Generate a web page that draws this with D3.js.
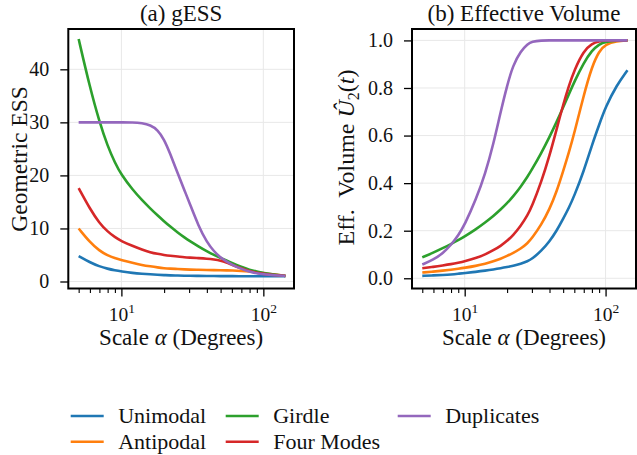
<!DOCTYPE html>
<html><head><meta charset="utf-8">
<script src="https://cdn.jsdelivr.net/npm/d3@7"></script>
<style>
body{margin:0;background:#fff}
svg{display:block}
text{font-family:"Liberation Serif","Times New Roman",serif;fill:#111}
</style>
</head><body>
<svg id="c" width="637" height="455"></svg>
<script>
// ---- data ----
const alpha = [5,6,7,8,9,10,12,14,16,18,20,22,25,28,30,35,40,45,50,55,60,70,80,90,100,120,143];
const seriesNames = ["Unimodal","Antipodal","Girdle","Four Modes","Duplicates"];
const seriesColors = ["#1f77b4","#ff7f0e","#2ca02c","#d62728","#9467bd"];

const gessUnimodal  = [4.8,3.6,2.85,2.4,2.1,1.9,1.6,1.45,1.35,1.27,1.2,1.16,1.12,1.09,1.08,1.05,1.04,1.03,1.02,1.01,1.01,1.0,1.0,1.0,1.0,1.0,1.0];
const gessAntipodal = [10,7.4,5.8,4.9,4.4,4.05,3.5,3.1,2.85,2.65,2.5,2.42,2.35,2.28,2.25,2.2,2.18,2.15,2.13,2.1,2.08,2.0,1.88,1.72,1.58,1.3,1.08];
const gessGirdle    = [45.7,36.6,30.1,25.5,22.4,20.1,17.3,15.3,13.75,12.45,11.35,10.4,9.2,8.25,7.7,6.6,5.7,5.0,4.45,3.95,3.5,2.75,2.2,1.85,1.6,1.28,1.06];
const gessFourModes = [17.6,13.7,11.0,9.4,8.35,7.6,6.7,6.0,5.5,5.2,5.0,4.85,4.7,4.55,4.5,4.4,4.3,4.15,3.95,3.6,3.15,2.45,1.95,1.65,1.45,1.2,1.06];
const gessDuplicates= [30,30,30,30,30,30,30,29.85,29.5,28.6,26.8,24.2,20.3,17.0,15.0,10.4,7.4,5.65,4.5,3.75,3.18,2.39,1.83,1.52,1.36,1.17,1.06];

const volUnimodal  = [0.01,0.012,0.014,0.016,0.019,0.022,0.027,0.032,0.037,0.042,0.047,0.052,0.061,0.072,0.081,0.115,0.155,0.2,0.25,0.297,0.347,0.45,0.56,0.645,0.72,0.812,0.875];
const volAntipodal = [0.024,0.028,0.032,0.036,0.04,0.044,0.052,0.061,0.071,0.082,0.094,0.106,0.124,0.148,0.168,0.225,0.29,0.365,0.45,0.53,0.61,0.77,0.89,0.955,0.984,0.997,1.0];
const volGirdle    = [0.088,0.108,0.127,0.144,0.16,0.176,0.206,0.235,0.262,0.289,0.316,0.343,0.385,0.428,0.457,0.527,0.594,0.658,0.719,0.775,0.826,0.906,0.958,0.984,0.995,0.999,1.0];
const volFourModes = [0.042,0.048,0.054,0.0595,0.0655,0.0715,0.085,0.1,0.118,0.136,0.157,0.18,0.22,0.266,0.302,0.405,0.515,0.628,0.73,0.81,0.875,0.957,0.987,0.997,1.0,1.0,1.0];
const volDuplicates= [0.058,0.078,0.105,0.14,0.18,0.225,0.33,0.44,0.565,0.7,0.81,0.895,0.955,0.985,0.995,1.0,1.0,1.0,1.0,1.0,1.0,1.0,1.0,1.0,1.0,1.0,1.0];

const xMajorTicks = [10,100];
const xMajorExp = ["1","2"];
const xMinorTicks = [5,6,7,8,9,20,30,40,50,60,70,80,90];
const gessTicks = [0,10,20,30,40];
const volTicks = [0,0.2,0.4,0.6,0.8,1.0];

const titles = ["(a) gESS","(b) Effective Volume"];

// ---- drawing ----
const svg = d3.select("#c");
const yTop = 29, yBottom = 288.5;
const xDomain = [Math.pow(10,0.626), Math.pow(10,2.216)];

function panel(opt){
  const x = d3.scaleLog().domain(xDomain).range([opt.x0, opt.x1]);
  const y = d3.scaleLinear().domain(opt.yDomain).range([yBottom, yTop]);
  const g = svg.append("g");
  // grid
  g.selectAll(".gx").data(xMajorTicks).enter().append("line")
    .attr("x1", d=>x(d)).attr("x2", d=>x(d)).attr("y1", yTop).attr("y2", yBottom)
    .attr("stroke", "#e8e8e8").attr("stroke-width", 1);
  g.selectAll(".gy").data(opt.yTicks).enter().append("line")
    .attr("x1", opt.x0).attr("x2", opt.x1).attr("y1", d=>y(d)).attr("y2", d=>y(d))
    .attr("stroke", "#e8e8e8").attr("stroke-width", 1);
  // lines
  const line = d3.line().x((d,i)=>x(alpha[i])).y(d=>y(d)).curve(d3.curveBasis);
  opt.series.forEach((s,k)=>{
    g.append("path").attr("d", line(s)).attr("fill","none")
      .attr("stroke", seriesColors[k]).attr("stroke-width", 2.6)
      .attr("stroke-linecap","butt").attr("stroke-linejoin","round");
  });
  // x axis major
  const ax = g.append("g").attr("transform", `translate(0,${yBottom})`)
    .call(d3.axisBottom(x).tickValues(xMajorTicks).tickSize(8).tickSizeOuter(0));
  ax.select(".domain").remove();
  ax.selectAll(".tick line").attr("stroke","#000").attr("stroke-width",1.3);
  ax.selectAll(".tick text").each(function(d,i){
    const t = d3.select(this);
    t.text(null).attr("y", 32).attr("dy", null).attr("font-size", 19.5).attr("fill","#111");
    t.append("tspan").text("10");
    t.append("tspan").text(xMajorExp[i]).attr("font-size", 13.5).attr("dy", -8);
  });
  // x axis minor
  const axm = g.append("g").attr("transform", `translate(0,${yBottom})`)
    .call(d3.axisBottom(x).tickValues(xMinorTicks).tickSize(4.5).tickFormat(""));
  axm.select(".domain").remove();
  axm.selectAll(".tick line").attr("stroke","#000").attr("stroke-width",1.1);
  // y axis
  const ay = g.append("g").attr("transform", `translate(${opt.x0},0)`)
    .call(d3.axisLeft(y).tickValues(opt.yTicks).tickSize(8).tickPadding(11).tickFormat(opt.fmt));
  ay.select(".domain").remove();
  ay.selectAll(".tick line").attr("stroke","#000").attr("stroke-width",1.3);
  ay.selectAll(".tick text").attr("font-size", 20).attr("fill","#111");
  ay.attr("font-family", null).attr("font-size", null);
  ax.attr("font-family", null); axm.attr("font-family", null);
  // spines
  g.append("rect").attr("x", opt.x0).attr("y", yTop).attr("width", opt.x1-opt.x0).attr("height", yBottom-yTop)
    .attr("fill","none").attr("stroke","#000").attr("stroke-width", 2);
  // title
  const cx = (opt.x0+opt.x1)/2;
  g.append("text").attr("x", cx).attr("y", 21).attr("text-anchor","middle")
    .attr("font-size", 23).text(opt.title);
  // xlabel
  const xl = g.append("text").attr("x", cx).attr("y", 345).attr("text-anchor","middle").attr("font-size", 23);
  xl.append("tspan").text("Scale ");
  xl.append("tspan").attr("font-style","italic").text("α");
  xl.append("tspan").text(" (Degrees)");
  return g;
}

const gA = panel({x0:68.3, x1:294, yDomain:[-1.32,47.6], yTicks:gessTicks, fmt:d3.format("d"),
  series:[gessUnimodal,gessAntipodal,gessGirdle,gessFourModes,gessDuplicates], title:titles[0]});
const gB = panel({x0:412, x1:636, yDomain:[-0.043,1.048], yTicks:volTicks, fmt:d3.format(".1f"),
  series:[volUnimodal,volAntipodal,volGirdle,volFourModes,volDuplicates], title:titles[1]});

// y labels
svg.append("text").attr("transform","translate(26.5,159) rotate(-90)").attr("text-anchor","middle")
  .attr("font-size", 23.5).text("Geometric ESS");
const yl = svg.append("text").attr("transform","translate(354,157.5) rotate(-90)").attr("text-anchor","middle")
  .attr("font-size", 24).style("white-space","pre");
yl.append("tspan").text("Eff.  Volume ");
yl.append("tspan").attr("font-style","italic").text("Û");
yl.append("tspan").attr("font-size", 16).attr("dy", 5).text("2");
yl.append("tspan").attr("dy", -5).text("(");
yl.append("tspan").attr("font-style","italic").text("t");
yl.append("tspan").text(")");

// legend (column-major, 2 rows)
const legendCols = [70.7, 225.7, 397.7];
const legendRows = [416, 441.7];
seriesNames.forEach((name,k)=>{
  const c = Math.floor(k/2), r = k%2;
  const lx = legendCols[c], ly = legendRows[r];
  svg.append("line").attr("x1", lx).attr("x2", lx+33).attr("y1", ly).attr("y2", ly)
    .attr("stroke", seriesColors[k]).attr("stroke-width", 2.6);
  svg.append("text").attr("x", lx+47.5).attr("y", ly+7.3).attr("font-size", 22).text(name);
});
</script>
</body></html>
